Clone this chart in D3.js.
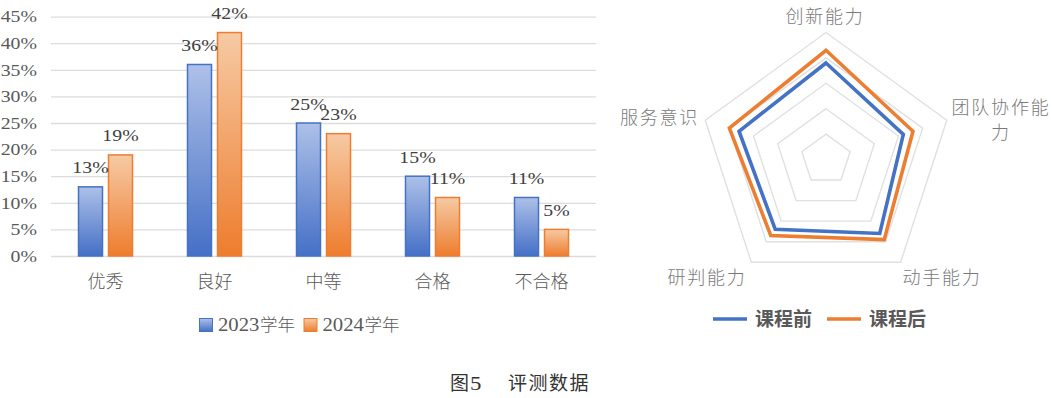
<!DOCTYPE html>
<html>
<head>
<meta charset="utf-8">
<script src="https://cdn.jsdelivr.net/npm/d3@7/dist/d3.min.js"></script>
<style>
  html, body { margin: 0; padding: 0; background: #fff; }
  svg { display: block; }
</style>
</head>
<body>
<svg id="chart" width="1052" height="398"></svg>
<script>
// Grade distribution by school year
const grades = ["优秀", "良好", "中等", "合格", "不合格"];
const years = ["2023", "2024"];
const yearSuffix = "学年";
const share2023 = [13, 36, 25, 15, 11];
const share2024 = [19, 42, 23, 11, 5];
const yTicks = [0, 5, 10, 15, 20, 25, 30, 35, 40, 45];

// Ability ratings before / after the course (0–5 scale)
const abilities = ["创新能力", "团队协作能力", "动手能力", "研判能力", "服务意识"];
const series = ["课程前", "课程后"];
const before = [3.8, 3.2, 3.6, 3.4, 3.6];
const after = [4.3, 3.6, 3.9, 3.7, 4.0];
const radarLevels = [1, 2, 3, 4, 5];

const blue = "#4472c4", orange = "#ed7d31";
const serif = "'Liberation Serif', 'DejaVu Serif', serif";
const cjk = "'Noto Sans CJK SC', sans-serif";
const numStretch = 1.2; // wide numeral face

const svg = d3.select("#chart");
const defs = svg.append("defs");

function gradient(id, top, bottom) {
  const g = defs.append("linearGradient").attr("id", id)
    .attr("x1", 0).attr("y1", 0).attr("x2", 0).attr("y2", 1);
  g.append("stop").attr("offset", "0%").attr("stop-color", top);
  g.append("stop").attr("offset", "100%").attr("stop-color", bottom);
}
gradient("gBlue", "#adc0e8", "#4570c6");
gradient("gOrange", "#f6caa4", "#ee7d2e");

/* ---------------- Grouped bar chart ---------------- */
const x = d3.scaleBand().domain(grades).range([51, 596]).paddingInner(0).paddingOuter(0);
const y = d3.scaleLinear().domain([0, 45]).range([256, 16.6]);
const xs = d3.scaleBand().domain(years).range([0, 54]).paddingInner(0.2);
const barOffset = (x.bandwidth() - 54) / 2;

// horizontal gridlines
svg.append("g")
  .attr("transform", "translate(51,0)")
  .call(d3.axisLeft(y).tickValues(yTicks).tickSize(-545).tickFormat(""))
  .call(g => g.select(".domain").remove())
  .call(g => g.selectAll("line").attr("stroke", "#dcdcdc").attr("stroke-width", 1.3));

// y-axis tick labels
svg.append("g")
  .selectAll("text").data(yTicks).join("text")
  .attr("transform", d => `translate(37,${y(d)}) scale(${numStretch},1)`)
  .attr("dy", "0.35em")
  .attr("text-anchor", "end")
  .attr("font-family", serif).attr("font-size", 16.5)
  .attr("fill", "#595959")
  .text(d => d + "%");

// bars
const rows = grades.map((g, i) => ({ grade: g, vals: [share2023[i], share2024[i]] }));
const groups = svg.append("g").selectAll("g").data(rows).join("g")
  .attr("transform", d => `translate(${x(d.grade) + barOffset},0)`);

const barData = d => years.map((yr, j) => ({ yr, v: d.vals[j], j }));
groups.selectAll("rect").data(barData).join("rect")
  .attr("x", d => xs(d.yr))
  .attr("width", xs.bandwidth())
  .attr("y", d => y(d.v))
  .attr("height", d => y(0) - y(d.v))
  .attr("fill", d => d.j === 0 ? "url(#gBlue)" : "url(#gOrange)")
  .attr("stroke", d => d.j === 0 ? blue : orange)
  .attr("stroke-width", 1.5);

// value labels
groups.selectAll("text").data(barData).join("text")
  .attr("transform", d => `translate(${xs(d.yr) + xs.bandwidth() / 2},${y(d.v) - 13.5}) scale(${numStretch},1)`)
  .attr("text-anchor", "middle")
  .attr("font-family", serif).attr("font-size", 16.5)
  .attr("fill", "#404040")
  .text(d => d.v + "%");

// category labels
svg.append("g").selectAll("text").data(grades).join("text")
  .attr("x", d => x(d) + x.bandwidth() / 2)
  .attr("y", 288)
  .attr("text-anchor", "middle")
  .attr("font-family", cjk).attr("font-size", 18).attr("font-weight", 300)
  .attr("fill", "#595959")
  .text(d => d);

// bar legend
const leg = svg.append("g");
const legItems = [{ label: years[0], fill: "url(#gBlue)", stroke: blue, x: 199 },
                  { label: years[1], fill: "url(#gOrange)", stroke: orange, x: 303.5 }];
legItems.forEach(it => {
  leg.append("rect").attr("x", it.x + 0.5).attr("y", 318.5).attr("width", 13).attr("height", 13)
    .attr("fill", it.fill).attr("stroke", it.stroke).attr("stroke-width", 1);
  leg.append("text")
    .attr("transform", `translate(${it.x + 19},331) scale(1.15,1)`)
    .attr("font-family", serif).attr("font-size", 18)
    .attr("fill", "#595959")
    .text(it.label);
  leg.append("text").attr("x", it.x + 61).attr("y", 331)
    .attr("font-family", cjk).attr("font-size", 17.5).attr("font-weight", 300)
    .attr("fill", "#595959")
    .text(yearSuffix);
});

/* ---------------- Radar chart ---------------- */
const cx = 826, cy = 159.5;
const r = d3.scaleLinear().domain([0, 5]).range([0, 127]);
const angle = i => (i * 2 * Math.PI) / abilities.length;
const radial = d3.lineRadial().angle((d, i) => angle(i)).radius(d => r(d)).curve(d3.curveLinearClosed);

const radar = svg.append("g").attr("transform", `translate(${cx},${cy})`);

// concentric pentagon grid
radar.append("g").selectAll("path").data(radarLevels).join("path")
  .attr("d", lv => radial(abilities.map(() => lv)))
  .attr("fill", "none").attr("stroke", "#e0e0e0").attr("stroke-width", 1.4);

// series outlines
radar.append("g").selectAll("path").data([before, after]).join("path")
  .attr("d", d => radial(d))
  .attr("fill", "none")
  .attr("stroke", (d, i) => i === 0 ? blue : orange)
  .attr("stroke-width", 3.6)
  .attr("stroke-linejoin", "miter");

// axis labels (the long one wraps onto a second line)
const axisLabels = [
  { lines: ["创新能力"], x: 825, y: 23 },
  { lines: ["团队协作能", "力"], x: 1001, y: 114 },
  { lines: ["动手能力"], x: 942, y: 284 },
  { lines: ["研判能力"], x: 707, y: 284 },
  { lines: ["服务意识"], x: 659.5, y: 124 }
];
svg.append("g").selectAll("text").data(axisLabels).join("text")
  .attr("x", d => d.x).attr("y", d => d.y)
  .attr("text-anchor", "middle")
  .attr("font-family", cjk).attr("font-size", 18).attr("font-weight", 300)
  .attr("letter-spacing", 1.8)
  .attr("fill", "#7a7a7a")
  .each(function (d) {
    d3.select(this).selectAll("tspan").data(d.lines).join("tspan")
      .attr("x", d.x).attr("dy", (t, k) => k === 0 ? 0 : 24.5)
      .text(t => t);
  });

// radar legend
const rl = svg.append("g");
[{ label: series[0], color: blue, x: 713 }, { label: series[1], color: orange, x: 827 }].forEach(it => {
  rl.append("line").attr("x1", it.x).attr("x2", it.x + 34).attr("y1", 319).attr("y2", 319)
    .attr("stroke", it.color).attr("stroke-width", 3.6);
  rl.append("text").attr("x", it.x + 42).attr("y", 326)
    .attr("font-family", cjk).attr("font-size", 19).attr("font-weight", 700)
    .attr("fill", "#595959")
    .text(it.label);
});

/* ---------------- Figure caption ---------------- */
const capG = svg.append("g").attr("fill", "#333");
capG.append("text").attr("x", 450).attr("y", 390)
  .attr("font-family", cjk).attr("font-size", 19).attr("font-weight", 400).text("图");
capG.append("text").attr("transform", "translate(470,390) scale(1.2,1)")
  .attr("font-family", serif).attr("font-size", 19).text("5");
capG.append("text").attr("x", 508).attr("y", 390)
  .attr("font-family", cjk).attr("font-size", 19).attr("font-weight", 400)
  .attr("letter-spacing", 1.5).text("评测数据");
</script>
</body>
</html>
